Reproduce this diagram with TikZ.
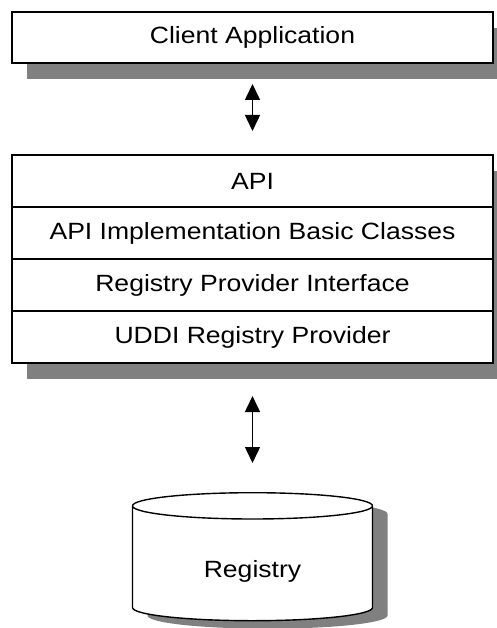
\documentclass[tikz,border=0pt]{standalone}
\usepackage{fontspec}
\setmainfont[FakeStretch=1.13]{Liberation Sans}
\usetikzlibrary{shapes.geometric,arrows.meta,positioning,fit,shadows}
\pgfdeclarelayer{bg}
\pgfsetlayers{bg,main}
\tikzstyle{box} = [rectangle, draw, fill=white, text centered, minimum height=51pt, minimum width=481pt, outer sep=0pt, inner sep=0pt, line width=1.4pt]
\tikzstyle{layer} = [rectangle, draw, fill=white, text centered, minimum height=52pt, minimum width=481pt, outer sep=0pt, inner sep=0pt, line width=1.4pt]
\tikzstyle{shade} = [drop shadow={shadow xshift=15pt, shadow yshift=-16pt, fill=black!50, opacity=1}]
\tikzstyle{line} = [draw, {Triangle[width=15pt,length=16pt]}-{Triangle[width=15pt,length=16pt]}, line width=1.5pt]

\begin{document}
\begin{tikzpicture}[x=1pt, y=1pt, font=\fontsize{23.5}{27}\selectfont]
    \useasboundingbox (0,0) rectangle (497,-628);

    \node[box, shade] at (252.5,-37.5) (client) {Client Application};

    \node[layer, below=92pt of client] (api) {API};
    \node[layer, below=0pt of api] (impl) {API Implementation Basic Classes};
    \node[layer, below=0pt of impl] (rpi) {Registry Provider Interface};
    \node[layer, below=0pt of rpi] (uddi) {UDDI Registry Provider};

    \node[cylinder, shape border rotate=90, aspect=0.27, draw, fill=white, line width=1.4pt,
          minimum width=240pt, minimum height=128pt, inner sep=0pt,
          drop shadow={shadow xshift=15pt, shadow yshift=-8pt, fill=black!50, opacity=1},
          below=129pt of uddi] (registry) {\raisebox{-14pt}[0pt][0pt]{Registry}};

    \begin{pgfonlayer}{bg}
        \node[fit=(api)(uddi), inner sep=0pt, fill=white, shade] (stack) {};
    \end{pgfonlayer}

    \draw[line, shorten <=21pt, shorten >=24pt] (client) -- (api);
    \draw[line, shorten <=33pt, shorten >=29pt] (uddi) -- (registry);
\end{tikzpicture}
\end{document}
